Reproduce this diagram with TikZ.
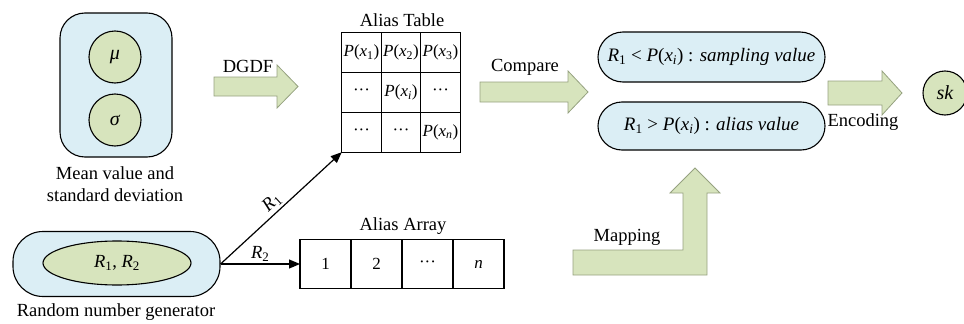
\documentclass[tikz,border=0pt]{standalone}
\usepackage{fontspec}
\setmainfont{Liberation Serif}
\usetikzlibrary{arrows.meta,matrix,shapes.geometric}

\definecolor{boxblue}{RGB}{219,238,245}
\definecolor{leafgreen}{RGB}{215,228,189}
\definecolor{arrowedge}{RGB}{150,162,128}

\newcommand\Pof[1]{\textit{P}(\textit{x}\textsubscript{#1})}
\newcommand\Rsub[1]{\textit{R}\textsubscript{#1}}

\begin{document}
\begin{tikzpicture}[x=1pt,y=-1pt,
  every node/.style={font=\fontsize{18.5}{22}\selectfont},
  container/.style={draw=black, line width=1.1pt, fill=boxblue},
  leaf/.style={draw=black, line width=1.1pt, fill=leafgreen},
  blockarrow/.style={fill=leafgreen, draw=arrowedge, line width=0.8pt, line join=miter},
  cell/.style={draw=black, line width=1.1pt, inner sep=0pt, anchor=center,
    font=\fontsize{17}{19}\selectfont},
  link/.style={line width=1.2pt, -{Triangle[length=11pt,width=9pt]}},
  caption/.style={inner sep=1pt, align=center}
]
\useasboundingbox (0,0) rectangle (964,324);

% mean and standard deviation
\node (msd) [container, rounded corners=25pt, minimum width=112pt, minimum height=144pt] at (116,85) {};
\node (mu) [leaf, circle, minimum size=52pt, inner sep=0pt, font=\fontsize{20}{22}\selectfont] at (115,57) {\textit{μ}};
\node (sigma) [leaf, circle, minimum size=52pt, inner sep=0pt, font=\fontsize{20}{22}\selectfont] at (115,120) {\textit{σ}};
\node (msdlabel) [caption, font=\fontsize{18.5}{22}\selectfont] at (115,184) {Mean value and\\standard deviation};

% DGDF block arrow
\draw[blockarrow] (214,77) -- (277,77) -- (277,65) -- (298,86.5) -- (277,108) -- (277,96) -- (214,96) -- cycle;
\node (dgdf) [caption] at (248,66) {DGDF};

% alias table
\node (tbltitle) [caption] at (402,20) {Alias Table};
\matrix (tbl) at (401,92.5) [matrix of nodes, inner sep=0pt, outer sep=0pt,
  nodes={cell, minimum width=39.5pt, minimum height=39.8pt},
  column sep=-1.1pt, row sep=-1.1pt] {
  \Pof{1} & \Pof{2} & \Pof{3} \\
  ··· & \Pof{\textit{i}} & ··· \\
  ··· & ··· & \Pof{\textit{n}} \\
};

% random number generator
\node (gen) [container, rounded corners=30pt, minimum width=207pt, minimum height=65pt] at (116.5,264) {};
\node (rr) [leaf, ellipse, minimum width=148pt, minimum height=44pt] at (117,263) {\Rsub{1}, \Rsub{2}};
\node (genlabel) [caption] at (116,312) {Random number generator};

% alias array
\node (arrtitle) [caption] at (403,226) {Alias Array};
\matrix (arr) at (402,264) [matrix of nodes, inner sep=0pt, outer sep=0pt,
  nodes={cell, minimum width=51pt, minimum height=49pt},
  column sep=-1.1pt] {
  1 & 2 & ··· & \textit{n} \\
};

% connectors from the generator
\draw[link] (gen.east) -- node[sloped, above, pos=0.48, inner sep=2pt] {\Rsub{1}} (tbl-3-1.south west);
\draw[link] (gen.east) -- node[above, inner sep=2pt] {\Rsub{2}} (arr-1-1.west);

% compare block arrow
\draw[blockarrow] (480,82) -- (568,82) -- (568,71) -- (588,92) -- (568,113) -- (568,102) -- (480,102) -- cycle;
\node (cmp) [caption] at (525,67) {Compare};

% decision boxes
\node (samp) [container, rounded corners=25pt, minimum width=227pt, minimum height=50pt,
  font=\fontsize{19}{22}\selectfont] at (711.5,57)
  {\Rsub{1} < \Pof{\textit{i}} : \textit{sampling value}};
\node (alias) [container, rounded corners=24pt, minimum width=227pt, minimum height=48pt,
  font=\fontsize{19}{22}\selectfont] at (711.5,126)
  {\Rsub{1} > \Pof{\textit{i}} : \textit{alias value}};

% mapping block arrow
\draw[blockarrow] (573,250) -- (683,250) -- (683,193) -- (670,193) -- (695,168) -- (720,193)
  -- (707,193) -- (707,275) -- (573,275) -- cycle;
\node (mapl) [caption] at (627,237) {Mapping};

% encoding block arrow
\draw[blockarrow] (828,81) -- (882,81) -- (882,71) -- (902,93) -- (882,115) -- (882,105) -- (828,105) -- cycle;
\node (enc) [caption] at (863,122) {Encoding};

% secret key
\node (sk) [leaf, circle, minimum size=44pt, inner sep=0pt, font=\fontsize{20}{22}\selectfont] at (945,93) {\textit{sk}};
\end{tikzpicture}
\end{document}
